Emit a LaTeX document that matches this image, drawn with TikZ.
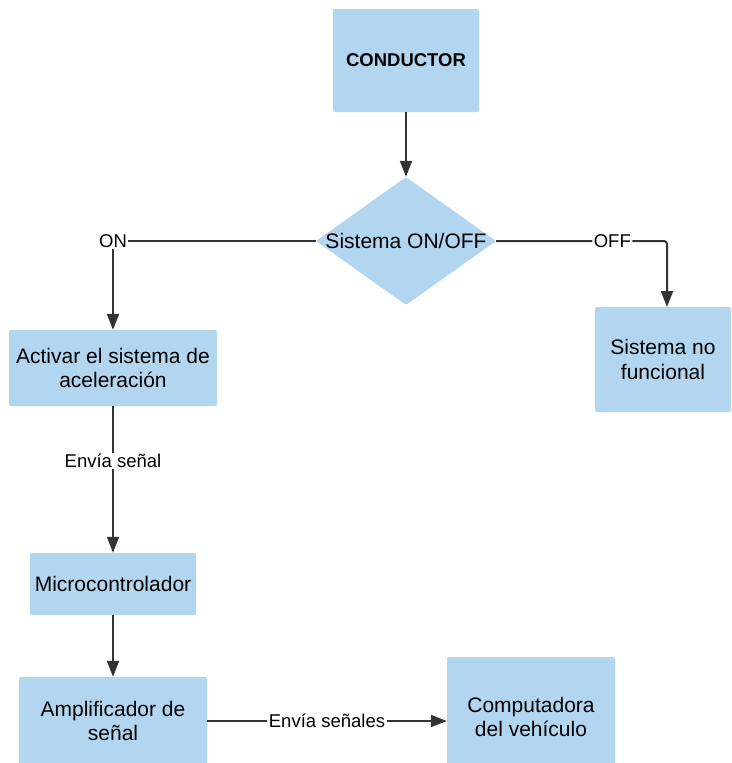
\documentclass[tikz,border=0pt]{standalone}
\usepackage{fontspec}
\setmainfont{Liberation Sans}
\usetikzlibrary{shapes.geometric,arrows.meta}
\definecolor{boxblue}{HTML}{B2D6F0}
\definecolor{linegray}{HTML}{333333}
\tikzset{
  box/.style={rectangle, fill=boxblue, rounded corners=2pt, align=center, inner sep=0pt,
    font=\fontsize{21}{24.5}\selectfont},
  conn/.style={draw=linegray, line width=2pt, -{Triangle[length=16pt,width=12pt]}},
  lbl/.style={fill=white, inner sep=1.5pt, font=\fontsize{18.5}{21}\selectfont, text=black}
}
\begin{document}
\begin{tikzpicture}[x=1pt,y=-1pt]
\useasboundingbox[fill=white] (0,0) rectangle (731,763);
\node[box, minimum width=146pt, minimum height=103pt, font=\bfseries\fontsize{18.5}{22}\selectfont] (cond) at (406,60.5) {CONDUCTOR};
\node[diamond, fill=boxblue, rounded corners=2pt, minimum width=180pt, minimum height=128pt, inner sep=0pt, font=\fontsize{21}{24.5}\selectfont] (dec) at (406,241) {\makebox[0pt]{Sistema ON/OFF}};
\node[box, minimum width=208pt, minimum height=76pt] (act) at (113,368) {Activar el sistema de\\aceleración};
\node[box, minimum width=136pt, minimum height=105pt] (nof) at (663,359.5) {Sistema no\\funcional};
\node[box, minimum width=166pt, minimum height=62pt] (mic) at (113,584) {Microcontrolador};
\node[box, minimum width=188pt, minimum height=88pt] (amp) at (113,721) {Amplificador de\\señal};
\node[box, minimum width=168pt, minimum height=120pt] (comp) at (531,717) {Computadora\\del vehículo};
\coordinate (offin) at (667,307);
\draw[conn] (cond.south) -- (dec.north);
\draw[conn] (dec.west) -| node[lbl, pos=0.5] {ON} (act.north);
\draw[conn, rounded corners=3pt] (dec.east) -| node[lbl, pos=0.34] {OFF} (offin);
\draw[conn] (act.south) -- node[lbl, pos=0.374] {Envía señal} (mic.north);
\draw[conn] (mic.south) -- (amp.north);
\draw[conn] (amp.east) -- node[lbl, pos=0.5] {Envía señales} (amp.east -| comp.west);
\end{tikzpicture}
\end{document}
